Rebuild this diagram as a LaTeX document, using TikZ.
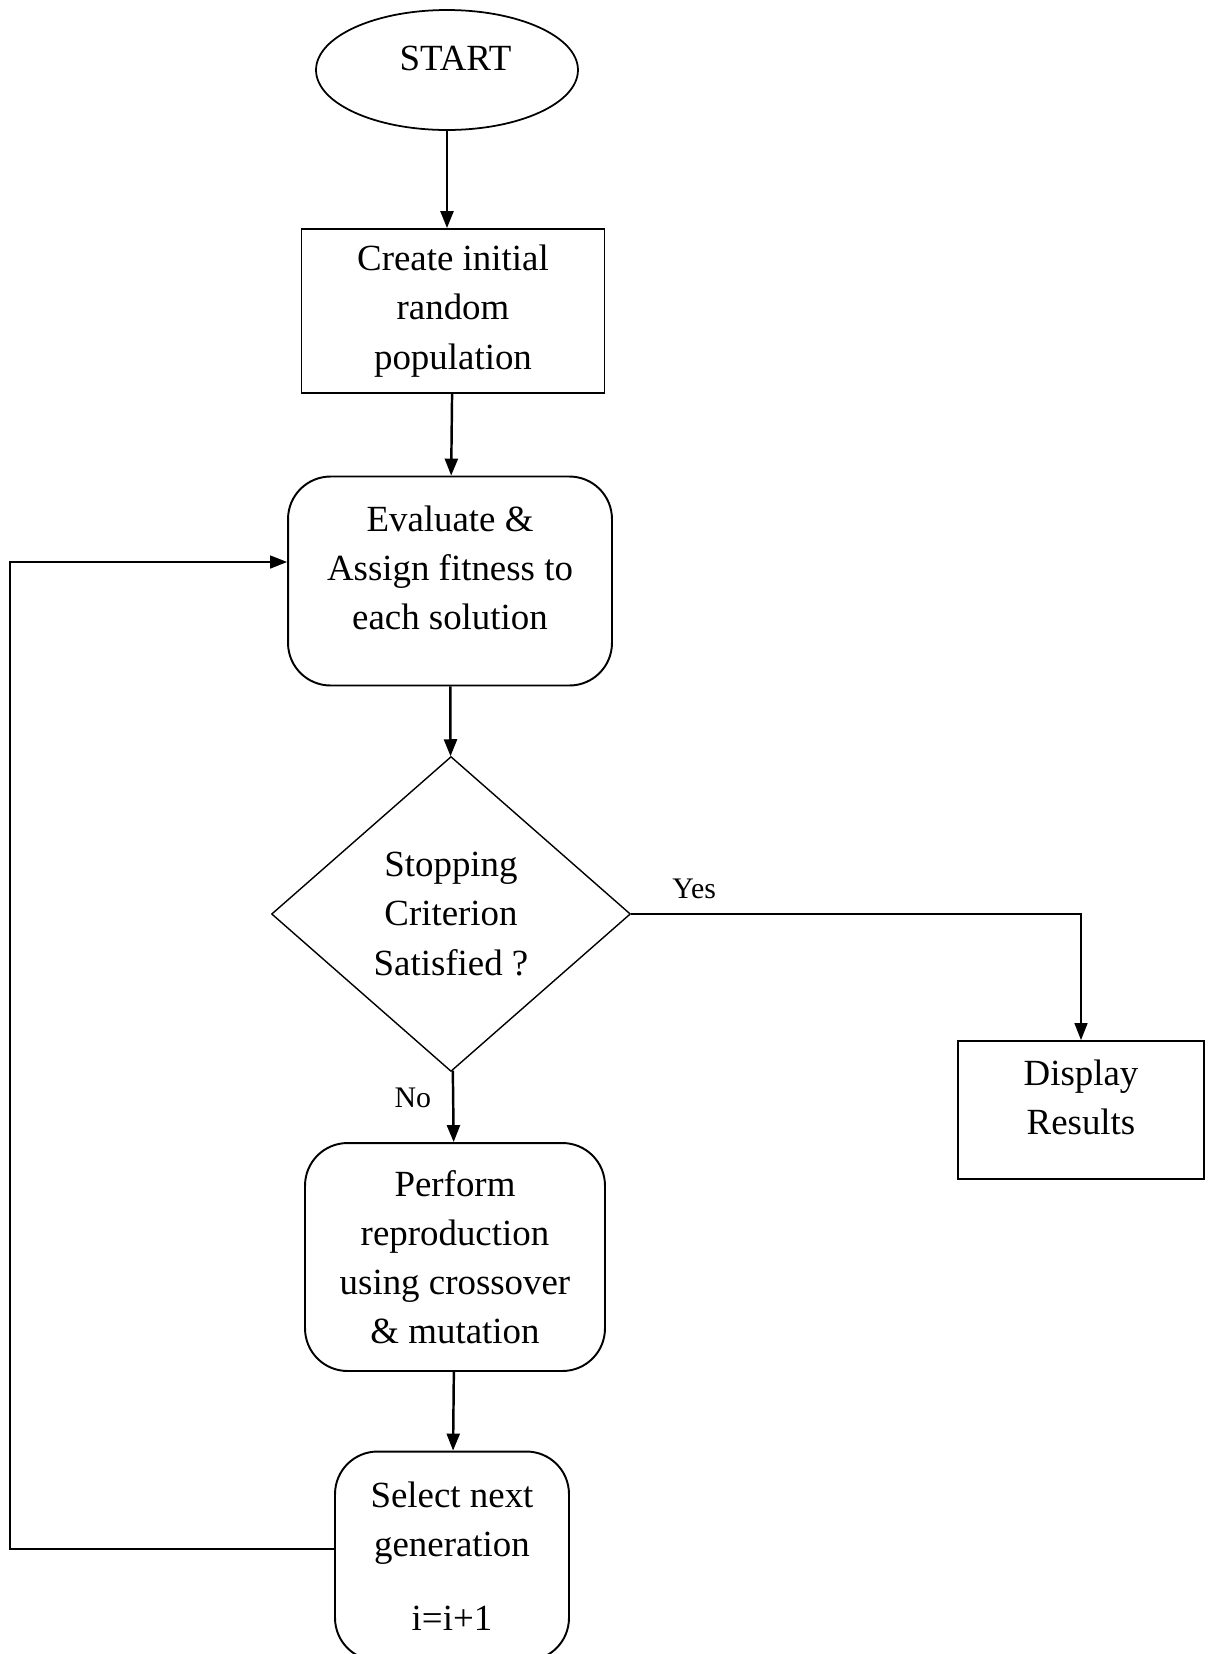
\documentclass[tikz,border=0pt]{standalone}
\usepackage{fontspec}
\setmainfont{Liberation Serif}
\usetikzlibrary{positioning,arrows.meta,shapes.geometric}

\begin{document}
\begin{tikzpicture}[x=0.02cm, y=-0.02cm,
  every node/.style={font=\fontsize{21}{28}\selectfont},
  term/.style={draw, ellipse, line width=1pt, minimum width=5.24cm, minimum height=2.4cm},
  box/.style={draw, line width=1.1pt, align=center, inner sep=0pt},
  rbox/.style={box, rounded corners=0.85cm},
  test/.style={draw, diamond, line width=0.8pt, inner sep=0pt, align=center, minimum width=7.18cm, minimum height=6.3cm},
  txt/.style={align=center, inner sep=0pt},
  tag/.style={font=\fontsize{17}{20}\selectfont},
  arrow/.style={-{Triangle[length=3.4mm, width=2.6mm]}, line width=1.4pt},
  thin arrow/.style={arrow, line width=0.9pt}
]
\useasboundingbox (0,0) rectangle (1209,1654);

\node[term] (start) at (447,70) {};
\node[txt] (start text) at ([xshift=0.17cm, yshift=0.23cm]start.center) {START};
\node[box, minimum width=6.06cm, minimum height=3.28cm] (create) at (453,311) {Create initial\\random\\population};
\node[rbox, minimum width=6.48cm, minimum height=4.18cm] (eval) at (450,581) {};
\node[txt] (eval text) at ([yshift=0.26cm]eval.center) {Evaluate \&\\Assign fitness to\\each solution};
\node[test] (stop) at (451,914) {Stopping\\Criterion\\Satisfied ?};
\node[box, minimum width=4.92cm, minimum height=2.76cm] (disp) at (1081,1110) {};
\node[txt] (disp text) at ([yshift=0.26cm]disp.center) {Display\\Results};
\node[rbox, minimum width=6.0cm, minimum height=4.56cm] (perf) at (455,1257) {Perform\\reproduction\\using crossover\\\& mutation};
\node[rbox, minimum width=4.68cm, minimum height=4.18cm] (sel) at (452,1556) {Select next\\generation\\[14pt]i=i+1};
\coordinate (entry) at ([yshift=0.38cm]eval.west);
\coordinate (exit) at ([yshift=0.14cm]sel.west);
\coordinate (loop) at (10,0);

% main flow
\draw[arrow] (start.south) -- (start.south |- create.north);
\draw[arrow] (create) -- (eval);
\draw[arrow] (eval) -- (stop);
\draw[arrow] (stop) -- node[tag, pos=0.38, left=0.3cm] {No} (perf);
\draw[arrow] (perf) -- (sel);
\draw[thin arrow] (stop.east) -| node[tag, pos=0.07, above=5pt] {Yes} (disp.north);

% loop back
\draw[thin arrow] (exit) -| (loop |- entry) -- (entry);
\end{tikzpicture}
\end{document}
